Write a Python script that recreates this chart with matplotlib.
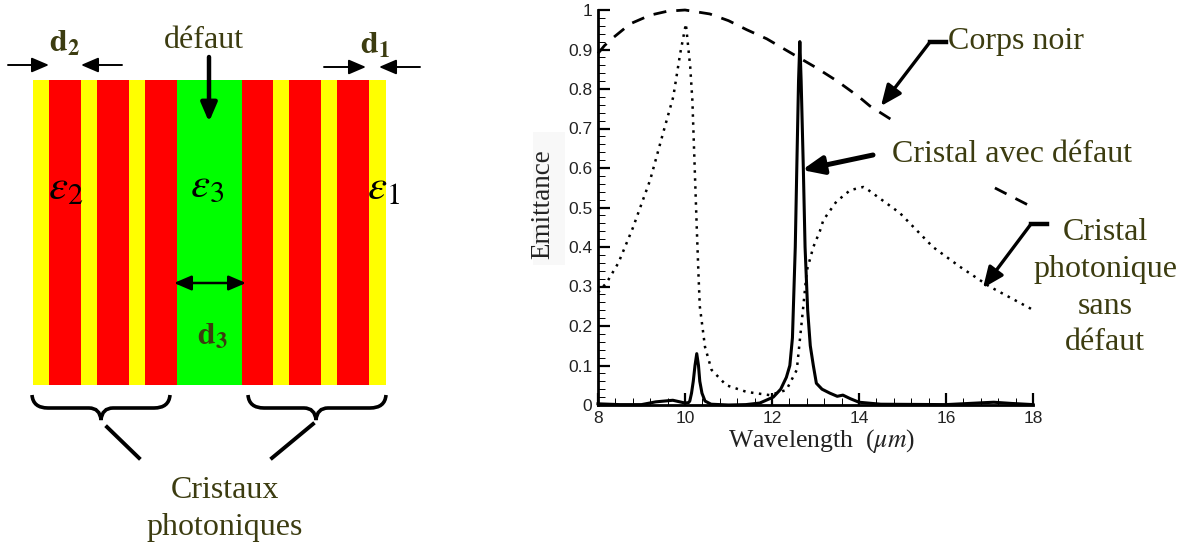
import matplotlib
matplotlib.use("Agg")
import matplotlib.pyplot as plt
from matplotlib.patches import Rectangle, PathPatch
from matplotlib.path import Path

W, H = 1188, 542

# layer stack of the crystal, left to right
layer_widths = [16, 32, 16, 32, 16, 32, 65, 31, 16, 32, 16, 32, 17]
layer_colors = ["#ffff00", "#ff0000", "#ffff00", "#ff0000", "#ffff00", "#ff0000", "#00ff00",
                "#ff0000", "#ffff00", "#ff0000", "#ffff00", "#ff0000", "#ffff00"]

# black body
bb_x = [8, 8.15, 8.35, 8.74, 9.2, 9.6, 10, 10.57, 11, 11.42, 11.88, 12.64, 13, 13.5, 14, 14.25, 14.78, 15.5, 16.5, 17.08, 18]
bb_y = [0.89, 0.91, 0.93, 0.965, 0.987, 0.997, 1.0, 0.99, 0.973, 0.95, 0.927, 0.878, 0.855, 0.82, 0.78, 0.757, 0.72, 0.67, 0.595, 0.552, 0.50]

# crystal without defect
nodef_x = [8, 8.2, 8.47, 8.8, 9.2, 9.5, 9.73, 9.89, 10.02, 10.12, 10.17, 10.27, 10.31, 10.34, 10.46, 10.61, 10.95,
           11.42, 11.95, 12.33, 12.57, 12.72, 12.8, 12.95, 13.1, 13.18, 13.48, 13.8, 14.1, 14.18, 14.94, 15.7,
           16.32, 17.0, 17.93, 18]
nodef_y = [0.285, 0.31, 0.36, 0.448, 0.57, 0.69, 0.78, 0.89, 0.965, 0.856, 0.77, 0.45, 0.33, 0.25, 0.147, 0.089, 0.05,
           0.033, 0.025, 0.038, 0.089, 0.25, 0.34, 0.40, 0.44, 0.468, 0.515, 0.544, 0.552, 0.547, 0.486, 0.40,
           0.35, 0.30, 0.245, 0.24]

# crystal with defect
def_x = [8, 8.5, 9, 9.33, 9.72, 10, 10.08, 10.11, 10.15, 10.19, 10.23, 10.27, 10.31, 10.34, 10.39, 10.46, 10.6, 11,
         11.4, 11.72, 12.03, 12.2, 12.33, 12.41, 12.47, 12.535, 12.57, 12.61, 12.64, 12.67, 12.72, 12.76, 12.82,
         12.88, 12.95, 13.02, 13.15, 13.33, 13.5, 13.63, 13.8, 14, 14.5, 16, 16.9, 17.1, 17.5, 18]
def_y = [0.003, 0.001, 0.001, 0.008, 0.012, 0.005, 0.006, 0.01, 0.03, 0.06, 0.10, 0.13, 0.10, 0.06, 0.03, 0.01, 0.002, 0,
         0.001, 0.005, 0.02, 0.04, 0.07, 0.10, 0.17, 0.40, 0.60, 0.82, 0.92, 0.82, 0.60, 0.40, 0.24,
         0.15, 0.10, 0.055, 0.04, 0.03, 0.022, 0.025, 0.016, 0.007, 0.002, 0.001, 0.006, 0.007, 0.004, 0.001]

x_ticks = [8, 10, 12, 14, 16, 18]
y_ticks = [0, 0.1, 0.2, 0.3, 0.4, 0.5, 0.6, 0.7, 0.8, 0.9, 1]
y_labels = ["0", "0.1", "0.2", "0.3", "0.4", "0.5", "0.6", "0.7", "0.8", "0.9", "1"]

OLIVE = "#3c3c10"
HEAD = "-|>,head_length=0.7,head_width=0.3"
plt.rcParams["mathtext.fontset"] = "stix"


def brace(ax, x0, x1, xtip, top):
    # curly brace opening upward, tip pointing down at xtip
    mid = top + 13
    tip = top + 25
    verts = [(x0, top), (x0 + 1, mid), (x0 + 16, mid), (xtip - 12, mid), (xtip - 1, mid), (xtip, tip),
             (xtip + 1, mid), (xtip + 12, mid), (x1 - 16, mid), (x1 - 1, mid), (x1, top)]
    codes = [Path.MOVETO, Path.CURVE3, Path.CURVE3, Path.LINETO, Path.CURVE3, Path.CURVE3,
             Path.CURVE3, Path.CURVE3, Path.LINETO, Path.CURVE3, Path.CURVE3]
    ax.add_patch(PathPatch(Path(verts, codes), fc="none", ec="black", lw=2.6))


def arrow(ax, start, end, lw=2, size=15, style=HEAD):
    ax.annotate("", xy=end, xytext=start,
                arrowprops=dict(arrowstyle=style, color="black", lw=lw, mutation_scale=size,
                                shrinkA=0, shrinkB=0))


fig = plt.figure(figsize=(W / 100, H / 100), dpi=100)

# emittance plot
ax = fig.add_axes([598 / W, 1 - 405 / H, 435 / W, 395 / H])
ax.plot(bb_x, bb_y, color="black", lw=2, linestyle=(0, (4.7, 3.6)), clip_on=False)
ax.plot(nodef_x, nodef_y, color="black", lw=1.8, linestyle=(0, (1, 2.2)), clip_on=False)
ax.plot(def_x, def_y, color="black", lw=2.2, clip_on=False)
ax.set_xlim(8, 18)
ax.set_ylim(0, 1)
ax.spines["top"].set_visible(False)
ax.spines["right"].set_visible(False)
ax.spines["left"].set_linewidth(2)
ax.spines["bottom"].set_linewidth(2)
ax.set_xticks(x_ticks)
ax.set_yticks(y_ticks)
ax.set_yticklabels(y_labels)
ax.set_xticks([8 + 0.4 * i for i in range(26) if i % 5], minor=True)
ax.set_yticks([0.02 * i for i in range(51) if i % 5], minor=True)
ax.tick_params(axis="both", which="major", direction="in", length=8.4, width=1.6, pad=4, labelsize=12.5)
ax.tick_params(axis="both", which="minor", direction="in", length=5, width=0.7)
for lab in ax.get_xticklabels() + ax.get_yticklabels():
    lab.set_family("Liberation Sans")
    lab.set_color("#222222")

# overlay in pixel coordinates for the diagram and callouts
ov = fig.add_axes([0, 0, 1, 1], facecolor="none")
ov.set_xlim(0, W)
ov.set_ylim(H, 0)
ov.axis("off")

left = 33
for wd, col in zip(layer_widths, layer_colors):
    ov.add_patch(Rectangle((left, 80), wd, 305, fc=col, ec="none"))
    left += wd

# the box around the label hides part of the black body curve
ov.add_patch(Rectangle((872, 122), 122, 64, fc="white", ec="none", zorder=1))
ov.add_patch(Rectangle((533, 132), 32, 133, fc="#f8f8f8", ec="none", zorder=0))

serif = "Liberation Serif"
ov.text(65, 43, r"$\mathbf{d_2}$", fontsize=23, color=OLIVE, ha="center", va="center")
ov.text(375, 45, r"$\mathbf{d_1}$", fontsize=23, color=OLIVE, ha="center", va="center")
ov.text(212, 336, r"$\mathbf{d_3}$", fontsize=23, color=OLIVE, ha="center", va="center")
ov.text(204, 41, "défaut", fontsize=23, family=serif, color=OLIVE, ha="center", va="center")
ov.text(66, 187, r"$\varepsilon_2$", fontsize=31, color="black", ha="center", va="center")
ov.text(207, 184, r"$\varepsilon_3$", fontsize=31, color="black", ha="center", va="center")
ov.text(383, 187, r"$\varepsilon_1$", fontsize=31, color="black", ha="center", va="center")
ov.text(225, 490, "Cristaux", fontsize=23, family=serif, color=OLIVE, ha="center", va="center")
ov.text(225, 528, "photoniques", fontsize=23, family=serif, color=OLIVE, ha="center", va="center")

arrow(ov, (8, 65), (49, 65), lw=1.4)
arrow(ov, (122, 65), (81, 65), lw=1.4)
arrow(ov, (324, 67), (366, 67), lw=1.4)
arrow(ov, (420, 67), (379, 67), lw=1.4)
arrow(ov, (209, 57), (209, 122), lw=3.2, size=16)
arrow(ov, (174, 283), (246, 283), lw=1.8, style="<|-|>,head_length=0.7,head_width=0.3")

brace(ov, 32, 170, 101, 395)
brace(ov, 248, 386, 316, 395)
ov.plot([107, 139], [427, 458], color="black", lw=2.8)
ov.plot([313, 272], [424, 458], color="black", lw=2.8)

# callouts of the plot
ov.text(1016, 42, "Corps noir", fontsize=23, family=serif, color=OLIVE, ha="center", va="center")
ov.text(1012, 154, "Cristal avec défaut", fontsize=23, family=serif, color=OLIVE, ha="center", va="center")
ov.text(1105, 233, "Cristal", fontsize=23, family=serif, color=OLIVE, ha="center", va="center")
ov.text(1105, 270, "photonique", fontsize=23, family=serif, color=OLIVE, ha="center", va="center")
ov.text(1105, 306, "sans", fontsize=23, family=serif, color=OLIVE, ha="center", va="center")
ov.text(1105, 343, "défaut", fontsize=23, family=serif, color=OLIVE, ha="center", va="center")

ov.plot([930, 946], [42, 42], color="black", lw=3.2)
arrow(ov, (930, 42), (881, 106), lw=2.4, size=18)
arrow(ov, (873, 155), (802, 170), lw=3.6, size=18)
ov.plot([1031, 1047], [224, 224], color="black", lw=3.2)
arrow(ov, (1031, 224), (983, 288), lw=2.4, size=18)

ov.text(543, 204, "Emittance", fontsize=19.5, family=serif, color="#222222", rotation=90, ha="center", va="center")
ov.text(822, 441, r"Wavelength  ($\mu m$)", fontsize=18.5, family=serif, color="#222222", ha="center", va="center")

fig.savefig("out.png", dpi=100)
